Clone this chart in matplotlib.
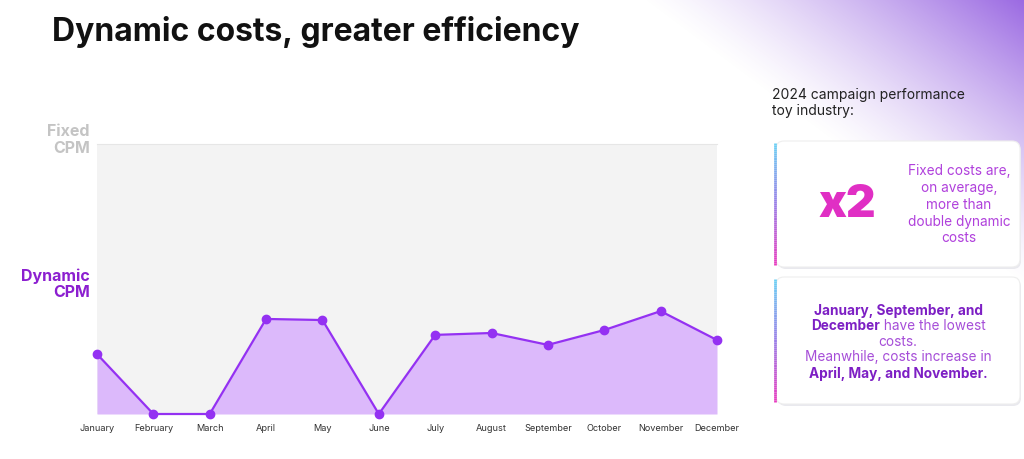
import numpy as np
import matplotlib
matplotlib.use("Agg")
import matplotlib.pyplot as plt
from matplotlib.patches import FancyBboxPatch
from matplotlib.collections import LineCollection

plt.rcParams['font.family'] = ['Inter', 'DejaVu Sans']

# data
months = ['January', 'February', 'March', 'April', 'May', 'June', 'July',
          'August', 'September', 'October', 'November', 'December']
dynamic_cpm = [22.2, 0, 0, 35.2, 34.8, 0, 29.3, 30.0, 25.6, 31.1, 38.1, 27.4]
fixed_cpm = 100

W, H = 1024, 459
fig = plt.figure(figsize=(W / 100, H / 100), dpi=100)

# background layer in pixel coordinates
bg = fig.add_axes([0, 0, 1, 1], zorder=0)
bg.set_xlim(0, W)
bg.set_ylim(H, 0)
bg.axis('off')

# purple corner gradient (diagonal)
xx, yy = np.meshgrid(np.arange(W), np.arange(H))
n = np.array([280.0, -374.0])
n = n / np.linalg.norm(n)
d = (xx - 640) * n[0] + yy * n[1]
t = np.clip(d / 260.0, 0, 1) ** 1.3
img = np.zeros((H, W, 4))
img[..., 0] = 0.54
img[..., 1] = 0.31
img[..., 2] = 0.87
img[..., 3] = t
bg.imshow(img, extent=(0, W, H, 0), aspect='auto', zorder=0)

# title and side heading
bg.text(52, 32, 'Dynamic costs, greater efficiency', fontsize=23, fontweight='bold',
        color='#111111', va='center', ha='left')
bg.text(772, 103, '2024 campaign performance\ntoy industry:', fontsize=10,
        color='#222222', va='center', ha='left', linespacing=1.1)

# cards
def card(y0, y1):
    shadow = FancyBboxPatch((778, y0 + 2), 243, y1 - y0, boxstyle='round,pad=0,rounding_size=8',
                            fc='#e9e9ee', ec='none', zorder=2)
    bg.add_patch(shadow)
    box = FancyBboxPatch((776, y0), 244, y1 - y0, boxstyle='round,pad=0,rounding_size=8',
                         fc='white', ec='#eeeeee', lw=0.8, zorder=3)
    bg.add_patch(box)
    ys = np.linspace(y0 + 2, y1 - 2, 60)
    segs = [[(775, ys[i]), (775, ys[i + 1])] for i in range(len(ys) - 1)]
    cmap = matplotlib.colors.LinearSegmentedColormap.from_list('edge', ['#6cd0f4', '#9a7ee8', '#e83cc0'])
    lc = LineCollection(segs, colors=cmap(np.linspace(0, 1, len(segs))), lw=2, zorder=4)
    bg.add_collection(lc)

card(141, 267)
card(277, 404)

bg.text(847, 205, 'x2', fontsize=33, fontweight='black', color='#e02fc4',
        ha='center', va='center', zorder=5)
bg.text(959, 205, 'Fixed costs are,\non average,\nmore than\ndouble dynamic\ncosts',
        fontsize=9.8, color='#b040dc', ha='center', va='center', linespacing=1.25, zorder=5)

# second card text with mixed weights
bold_c = '#7d1fc4'
norm_c = '#a64ed8'
lines = [
    [('January, September, and', 'bold')],
    [('December', 'bold'), (' have the lowest', 'normal')],
    [('costs.', 'normal')],
    [('Meanwhile, costs increase in', 'normal')],
    [('April, May, and November.', 'bold')],
]
line_y = [309, 325, 341, 356, 372]
fig.canvas.draw()
renderer = fig.canvas.get_renderer()
inv = bg.transData.inverted()
for parts, y in zip(lines, line_y):
    objs = []
    for s, w in parts:
        tx = bg.text(0, y + 1.5, s, fontsize=9.8, fontweight=w,
                     color=bold_c if w == 'bold' else norm_c,
                     ha='left', va='center', zorder=5)
        objs.append(tx)
    widths = []
    for tx in objs:
        bb = tx.get_window_extent(renderer)
        p0 = inv.transform((bb.x0, bb.y0))
        p1 = inv.transform((bb.x1, bb.y0))
        widths.append(p1[0] - p0[0])
    total = sum(widths)
    x = 898 - total / 2
    for tx, w in zip(objs, widths):
        tx.set_x(x)
        x += w

# main chart
ax = fig.add_axes([97 / W, (H - 414) / H, (717 - 97) / W, (414 - 144) / H], zorder=1)
ax.set_facecolor('#f3f3f3')
x = np.arange(len(months))
ax.fill_between(x, dynamic_cpm, 0, color='#dcb9fb', lw=0)
ax.plot(x, dynamic_cpm, color='#9431f2', lw=1.6, marker='o', ms=6, clip_on=False, zorder=3)
ax.set_xlim(0, len(months) - 1)
ax.set_ylim(0, fixed_cpm)
for s in ax.spines.values():
    s.set_visible(False)
ax.spines['top'].set_visible(True)
ax.spines['top'].set_color('#e6e6e6')
ax.set_yticks([])
ax.set_xticks(x)
ax.set_xticklabels(months, fontsize=6.6, color='#333333')
ax.tick_params(axis='x', length=0, pad=7)

ax.text(-0.13, fixed_cpm + 1.5, 'Fixed\nCPM', transform=ax.transData, fontsize=11.5,
        fontweight='bold', color='#c4c4c4', ha='right', va='center', linespacing=1.1)
ax.text(-0.13, 48, 'Dynamic\nCPM', transform=ax.transData, fontsize=11.5,
        fontweight='bold', color='#8c1fd0', ha='right', va='center', linespacing=1.1)

fig.savefig('out.png', dpi=100)
